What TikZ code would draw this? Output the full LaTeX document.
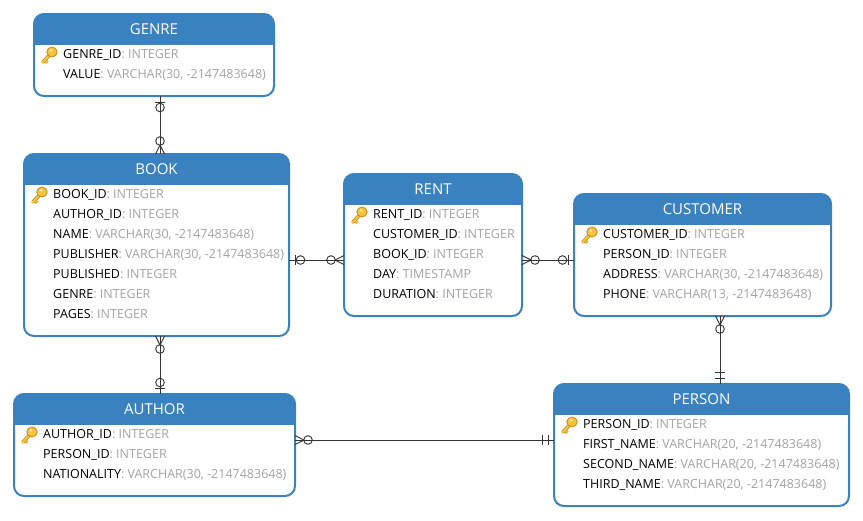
\documentclass[tikz,border=0pt]{standalone}
\usepackage{fontspec}
\setmainfont{Open Sans}
\definecolor{hdblue}{HTML}{3A82BF}
\definecolor{typegray}{HTML}{A3A3A3}
\definecolor{linedark}{HTML}{333333}
\definecolor{keygold}{HTML}{F7C33B}
\definecolor{keyedge}{HTML}{C08A1E}
\tikzset{
  entitybox/.style={draw=hdblue,line width=2pt,rounded corners=10pt,fill=white,inner sep=0pt,outer sep=0pt},
  titletext/.style={text=white,font=\fontsize{15}{17}\selectfont,inner sep=0pt},
  fieldtext/.style={anchor=base west,inner sep=0pt,font=\fontsize{12.5}{15}\selectfont,text=black},
  conn/.style={draw=linedark,line width=1pt},
  mk/.style={draw=linedark,line width=.9pt},
  zeroone/.pic={
    \draw[mk] (6,-5)--(6,5);
    \draw[mk] (11.5,0) circle (4.3);
  },
  crowzero/.pic={
    \draw[mk] (0,-4.5)--(9,0)--(0,4.5);
    \draw[mk] (13,0) circle (4.3);
  },
  oneone/.pic={
    \draw[mk] (5.7,-5)--(5.7,5);
    \draw[mk] (11.7,-5)--(11.7,5);
  },
  keyicon/.pic={
    \draw[keyedge,line width=3.6pt,line cap=round] (-6,8)--(1,0.5);
    \draw[keygold,line width=2.2pt,line cap=round] (-6,8)--(1,0.5);
    \draw[keyedge,line width=3pt] (-3.5,7)--(-1.6,8.6);
    \draw[keygold,line width=1.6pt] (-3.5,7)--(-1.6,8.6);
    \filldraw[draw=keyedge,fill=keygold,line width=.8pt] (3,-2) ellipse (5.2 and 5);
    \fill[white!60!keygold] (2,-3.6) circle (1.5);
  },
}
\newcommand{\entity}[6]{% id, title, x1, y1, x2, y2 (outer edge on top and sides)
  \pgfmathsetmacro{\eax}{#3+1}
  \pgfmathsetmacro{\eay}{#4+1}
  \pgfmathsetmacro{\ebx}{#5-1}
  \pgfmathsetmacro{\ecx}{(\eax+\ebx)/2}
  \pgfmathsetmacro{\ecy}{(\eay+#6)/2}
  \pgfmathsetmacro{\ew}{\ebx-\eax}
  \pgfmathsetmacro{\eh}{#6-\eay}
  \pgfmathsetmacro{\hb}{#4+32}
  \pgfmathsetmacro{\tcy}{#4+16}
  \node[entitybox,minimum width=\ew pt,minimum height=\eh pt] (#1) at (\ecx,\ecy) {};
  \begin{scope}
    \clip[rounded corners=10pt] (\eax,\eay) rectangle (\ebx,#6);
    \fill[hdblue] (\eax,\eay) rectangle (\ebx,\hb);
  \end{scope}
  \node[titletext] (#1-title) at (\ecx,\tcy) {#2};
}
\newcommand{\fieldrow}[5]{% id, x, y, name, type
  \pgfmathsetmacro{\fby}{#3+4.4}
  \node[fieldtext] (#1) at (#2,\fby) {#4\textcolor{typegray}{: #5}};
}
\begin{document}
\begin{tikzpicture}[x=1pt,y=-1pt]
\useasboundingbox (0,0) rectangle (863,520);
\fill[white] (0,0) rectangle (863,520);

\entity{genre}{GENRE}{33}{13}{275}{96}
\entity{book}{BOOK}{23}{153}{290}{336}
\entity{rent}{RENT}{343}{173}{523}{316}
\entity{customer}{CUSTOMER}{573}{193}{832}{316}
\entity{author}{AUTHOR}{13}{393}{296}{496}
\entity{person}{PERSON}{553}{383}{850}{506}

\path (49,54) pic {keyicon};
\path (39,194) pic {keyicon};
\path (359,214) pic {keyicon};
\path (589,234) pic {keyicon};
\path (29,434) pic {keyicon};
\path (569,424) pic {keyicon};

\fieldrow{g1}{63}{54}{GENRE\_ID}{INTEGER}
\fieldrow{g2}{63}{74}{VALUE}{VARCHAR(30, -2147483648)}

\fieldrow{b1}{53}{194}{BOOK\_ID}{INTEGER}
\fieldrow{b2}{53}{214}{AUTHOR\_ID}{INTEGER}
\fieldrow{b3}{53}{234}{NAME}{VARCHAR(30, -2147483648)}
\fieldrow{b4}{53}{254}{PUBLISHER}{VARCHAR(30, -2147483648)}
\fieldrow{b5}{53}{274}{PUBLISHED}{INTEGER}
\fieldrow{b6}{53}{294}{GENRE}{INTEGER}
\fieldrow{b7}{53}{314}{PAGES}{INTEGER}

\fieldrow{r1}{373}{214}{RENT\_ID}{INTEGER}
\fieldrow{r2}{373}{234}{CUSTOMER\_ID}{INTEGER}
\fieldrow{r3}{373}{254}{BOOK\_ID}{INTEGER}
\fieldrow{r4}{373}{274}{DAY}{TIMESTAMP}
\fieldrow{r5}{373}{294}{DURATION}{INTEGER}

\fieldrow{c1}{603}{234}{CUSTOMER\_ID}{INTEGER}
\fieldrow{c2}{603}{254}{PERSON\_ID}{INTEGER}
\fieldrow{c3}{603}{274}{ADDRESS}{VARCHAR(30, -2147483648)}
\fieldrow{c4}{603}{294}{PHONE}{VARCHAR(13, -2147483648)}

\fieldrow{a1}{43}{434}{AUTHOR\_ID}{INTEGER}
\fieldrow{a2}{43}{454}{PERSON\_ID}{INTEGER}
\fieldrow{a3}{43}{474}{NATIONALITY}{VARCHAR(30, -2147483648)}

\fieldrow{p1}{583}{424}{PERSON\_ID}{INTEGER}
\fieldrow{p2}{583}{444}{FIRST\_NAME}{VARCHAR(20, -2147483648)}
\fieldrow{p3}{583}{464}{SECOND\_NAME}{VARCHAR(20, -2147483648)}
\fieldrow{p4}{583}{484}{THIRD\_NAME}{VARCHAR(20, -2147483648)}

% connectors
\coordinate (gb1) at (genre.south -| 160,0);
\coordinate (gb2) at (book.north -| 160,0);
\draw[conn] (gb1) -- (gb2);
\path (gb1) pic[rotate=-90] {zeroone};
\path (gb2) pic[rotate=90] {crowzero};

\coordinate (ba1) at (book.south -| 160,0);
\coordinate (ba2) at (author.north -| 160,0);
\draw[conn] (ba1) -- (ba2);
\path (ba1) pic[rotate=-90] {crowzero};
\path (ba2) pic[rotate=90] {zeroone};

\coordinate (br1) at (book.east |- 0,260);
\coordinate (br2) at (rent.west |- 0,260);
\draw[conn] (br1) -- (br2);
\path (br1) pic {zeroone};
\path (br2) pic[rotate=180] {crowzero};

\coordinate (rc1) at (rent.east |- 0,260);
\coordinate (rc2) at (customer.west |- 0,260);
\draw[conn] (rc1) -- (rc2);
\path (rc1) pic {crowzero};
\path (rc2) pic[rotate=180] {zeroone};

\coordinate (cp1) at (customer.south -| 720,0);
\coordinate (cp2) at (person.north -| 720,0);
\draw[conn] (cp1) -- (cp2);
\path (cp1) pic[rotate=-90] {crowzero};
\path (cp2) pic[rotate=90] {oneone};

\coordinate (ap1) at (author.east |- 0,440);
\coordinate (ap2) at (person.west |- 0,440);
\draw[conn] (ap1) -- (ap2);
\path (ap1) pic {crowzero};
\path (ap2) pic[rotate=180] {oneone};
\end{tikzpicture}
\end{document}
